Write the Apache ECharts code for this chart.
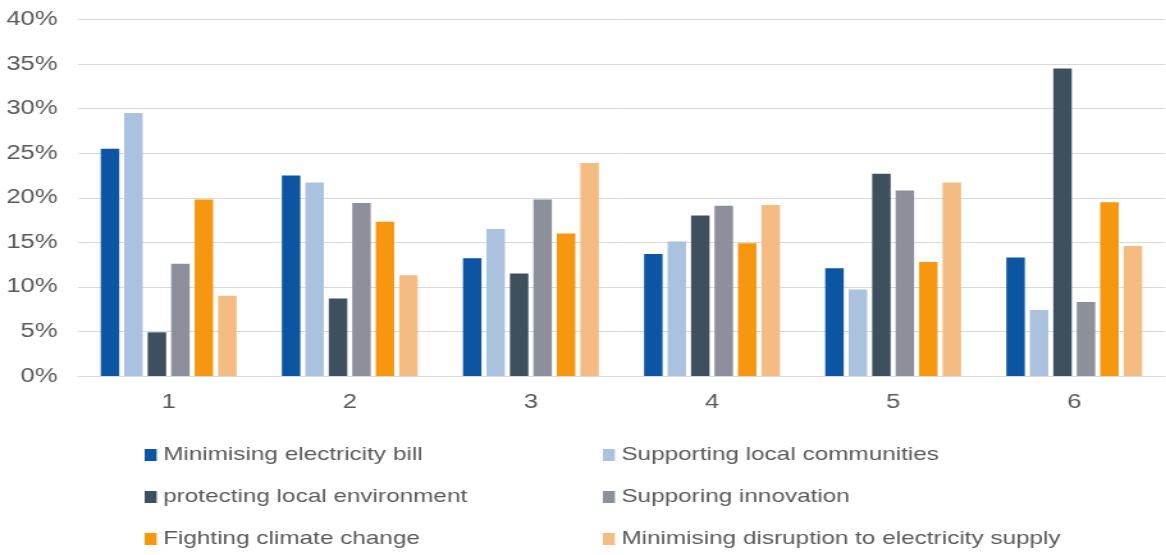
<!DOCTYPE html>
<html>
<head>
<meta charset="utf-8">
<script src="https://cdn.jsdelivr.net/npm/echarts@6/dist/echarts.min.js"></script>
<style>
  html, body { margin: 0; padding: 0; background: #ffffff; overflow: hidden; }
  #wrap { width: 1166px; height: 555px; overflow: hidden; }
  /* the chart is laid out narrower and stretched to the full width */
  #chart { width: 911px; height: 555px; transform: scaleX(1.28); transform-origin: 0 0; }
</style>
</head>
<body>
<div id="wrap"><div id="chart"></div></div>
<script>
// Ranks 1..6
const categories = ['1', '2', '3', '4', '5', '6'];

// Share of respondents (%) per rank, one array per priority
const minimisingBill        = [25.5, 22.5, 13.2, 13.7, 12.1, 13.3];
const supportingCommunities = [29.5, 21.7, 16.5, 15.1,  9.7,  7.4];
const protectingEnvironment = [ 4.9,  8.7, 11.5, 18.0, 22.7, 34.5];
const supporingInnovation   = [12.6, 19.4, 19.8, 19.1, 20.8,  8.3];
const fightingClimate       = [19.8, 17.3, 16.0, 14.9, 12.8, 19.5];
const minimisingDisruption  = [ 9.0, 11.3, 23.9, 19.2, 21.7, 14.6];

const seriesNames = [
  'Minimising electricity bill',
  'Supporting local communities',
  'protecting local environment',
  'Supporing innovation',
  'Fighting climate change',
  'Minimising disruption to electricity supply'
];
const seriesValues = [
  minimisingBill, supportingCommunities, protectingEnvironment,
  supporingInnovation, fightingClimate, minimisingDisruption
];
const colors = ['#0b55a2', '#abc2de', '#3e4f5e', '#8d909b', '#f7970f', '#f4bb82'];

const yTicks = { min: 0, max: 40, interval: 5 };

const font = 'Arial, "Liberation Sans", sans-serif';
const textColor = '#595959';

const chart = echarts.init(document.getElementById('chart'));

// Legend laid out as a two-column, three-row block: one legend per entry
const legendCols = [113, 471];
const legendRows = [445.5, 487.5, 529.5];
const legends = seriesNames.map((name, i) => ({
  data: [name],
  left: legendCols[i % 2],
  top: legendRows[Math.floor(i / 2)],
  padding: 0,
  itemWidth: 9.4,
  itemHeight: 12,
  icon: 'rect',
  selectedMode: false,
  textStyle: { color: textColor, fontSize: 19, fontFamily: font }
}));

chart.setOption({
  animation: false,
  color: colors,
  textStyle: { fontFamily: font },
  grid: { left: 61, right: 1, top: 19.5, bottom: 179, containLabel: false },
  legend: legends,
  xAxis: {
    type: 'category',
    data: categories,
    axisLine: { lineStyle: { color: '#d9d9d9', width: 1 } },
    axisTick: { show: false },
    axisLabel: { color: textColor, fontSize: 20, fontFamily: font, margin: 16 }
  },
  yAxis: {
    type: 'value',
    min: yTicks.min,
    max: yTicks.max,
    interval: yTicks.interval,
    axisLine: { show: false },
    axisTick: { show: false },
    splitLine: { lineStyle: { color: '#d9d9d9', width: 1 } },
    axisLabel: { color: textColor, fontSize: 20, fontFamily: font, margin: 16, formatter: '{value}%' }
  },
  series: seriesNames.map((name, i) => ({
    name: name,
    type: 'bar',
    data: seriesValues[i],
    barGap: '27%',
    barCategoryGap: '25%',
    itemStyle: { color: colors[i] }
  }))
});
</script>
</body>
</html>
